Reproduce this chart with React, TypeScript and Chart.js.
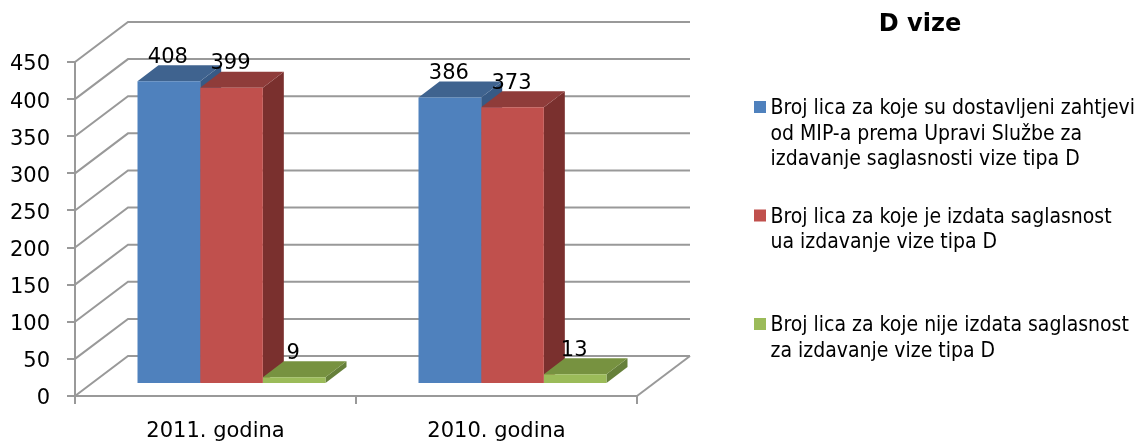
import React, { useEffect, useRef } from "react";
import { Chart, registerables } from "chart.js";

Chart.register(...registerables);

const categories = ["2011. godina", "2010. godina"];
const sentRequests = [408, 386];
const issuedConsents = [399, 373];
const refusedConsents = [9, 13];
const yTicks = [0, 50, 100, 150, 200, 250, 300, 350, 400, 450];
const titleText = "D vize";
const legendLines = [
  ["Broj lica za koje su dostavljeni zahtjevi", "od MIP-a prema Upravi Službe za", "izdavanje saglasnosti vize tipa D"],
  ["Broj lica za koje je izdata saglasnost", "ua izdavanje vize tipa D"],
  ["Broj lica za koje nije izdata saglasnost", "za izdavanje vize tipa D"],
];
const seriesNames = legendLines.map((l) => l.join(" "));
const frontColors = ["#4F81BD", "#C0504D", "#9BBB59"];
const topColors = ["#3F638F", "#8F3C3A", "#779240"];
const sideColors = ["#375A85", "#7A302E", "#66803A"];

const GRID = "#999999";
const FONT = '"DejaVu Sans"';
const LEGEND_FONT = '"DejaVu Sans Condensed", "DejaVu Sans"';
// 3D projection of the Excel-style chart
const WALL_DX = 53;
const WALL_DY = -40;
const BAR_DX = 16;
const BAR_DY = -12;
const DEPTH_DX = 21;
const DEPTH_DY = -16;

function poly(ctx: CanvasRenderingContext2D, pts: number[][], fill: string) {
  ctx.fillStyle = fill;
  ctx.beginPath();
  pts.forEach((p, i) => (i ? ctx.lineTo(p[0], p[1]) : ctx.moveTo(p[0], p[1])));
  ctx.closePath();
  ctx.fill();
}

const chart3d = {
  id: "chart3d",
  beforeDatasetsDraw(chart: any) {
    const { ctx, chartArea, scales } = chart;
    const { left, right } = chartArea;
    ctx.save();
    ctx.strokeStyle = GRID;
    ctx.lineWidth = 2;
    yTicks.forEach((v) => {
      const y = scales.y.getPixelForValue(v);
      ctx.beginPath();
      ctx.moveTo(left, y);
      ctx.lineTo(left + WALL_DX, y + WALL_DY);
      ctx.lineTo(right + WALL_DX + 0, y + WALL_DY);
      ctx.stroke();
    });
    const y0 = scales.y.getPixelForValue(0);
    ctx.beginPath();
    ctx.moveTo(right, y0);
    ctx.lineTo(right + WALL_DX, y0 + WALL_DY);
    ctx.stroke();
    ctx.restore();

    ctx.save();
    ctx.translate(BAR_DX, BAR_DY);
    chart.data.datasets.forEach((_: any, di: number) => {
      chart.getDatasetMeta(di).data.forEach((bar: any) => {
        const l = bar.x - bar.width / 2;
        const r = bar.x + bar.width / 2;
        const t = bar.y;
        const b = bar.base;
        poly(ctx, [[r, t], [r + DEPTH_DX, t + DEPTH_DY], [r + DEPTH_DX, b + DEPTH_DY], [r, b]], sideColors[di]);
        poly(ctx, [[l, t], [r, t], [r + DEPTH_DX, t + DEPTH_DY], [l + DEPTH_DX, t + DEPTH_DY]], topColors[di]);
      });
    });
    ctx.restore();

    ctx.save();
    ctx.translate(BAR_DX, BAR_DY);
  },
  afterDatasetsDraw(chart: any) {
    const { ctx } = chart;
    ctx.restore();

    ctx.save();
    ctx.fillStyle = "#000";
    ctx.font = `21px ${FONT}`;
    ctx.textAlign = "center";
    ctx.textBaseline = "middle";
    chart.data.datasets.forEach((ds: any, di: number) => {
      chart.getDatasetMeta(di).data.forEach((bar: any, i: number) => {
        ctx.fillText(String(ds.data[i]), bar.x + BAR_DX - 1, bar.y + BAR_DY - 24);
      });
    });

    ctx.font = `bold 24px ${FONT}`;
    ctx.fillText(titleText, 920, 25);

    const baselines = [114, 222.5, 331];
    ctx.textAlign = "left";
    ctx.textBaseline = "alphabetic";
    ctx.font = `21px ${LEGEND_FONT}`;
    legendLines.forEach((lines, li) => {
      ctx.fillStyle = frontColors[li];
      ctx.fillRect(754, baselines[li] - 13, 12, 12);
      ctx.fillStyle = "#000";
      lines.forEach((line, k) => ctx.fillText(line, 770.5, baselines[li] + k * 25.5));
    });
    ctx.restore();
  },
};

export default function App() {
  const ref = useRef<HTMLCanvasElement>(null);
  useEffect(() => {
    document.body.style.margin = "0";
    const series = [sentRequests, issuedConsents, refusedConsents];
    const chart = new Chart(ref.current as HTMLCanvasElement, {
      type: "bar",
      data: {
        labels: categories,
        datasets: series.map((data, i) => ({
          label: seriesNames[i],
          data,
          backgroundColor: frontColors[i],
          borderWidth: 0,
          categoryPercentage: 0.669,
          barPercentage: 1,
          clip: false as any,
        })),
      },
      options: {
        animation: false,
        responsive: false,
        layout: { padding: { left: 0, right: 501, top: 62, bottom: 0 } },
        plugins: { legend: { display: false }, title: { display: false }, tooltip: { enabled: false } },
        scales: {
          x: {
            afterFit: (s: any) => { s.height = 45; },
            grid: { drawOnChartArea: false, offset: true, color: GRID, lineWidth: 2, tickLength: 8 },
            border: { color: GRID, width: 2 },
            ticks: { color: "#000", font: { family: "DejaVu Sans", size: 21 }, padding: 15, maxRotation: 0 },
          },
          y: {
            min: 0,
            max: 450,
            afterFit: (s: any) => { s.width = 75; },
            grid: { drawOnChartArea: false, color: GRID, lineWidth: 2, tickLength: 8 },
            border: { color: GRID, width: 2 },
            ticks: { color: "#000", font: { family: "DejaVu Sans", size: 21 }, padding: 17, stepSize: 50, labelOffset: 3 },
          },
        },
      },
      plugins: [chart3d],
    });
    return () => chart.destroy();
  }, []);
  return <canvas ref={ref} width={1138} height={441} style={{ display: "block" }} />;
}
